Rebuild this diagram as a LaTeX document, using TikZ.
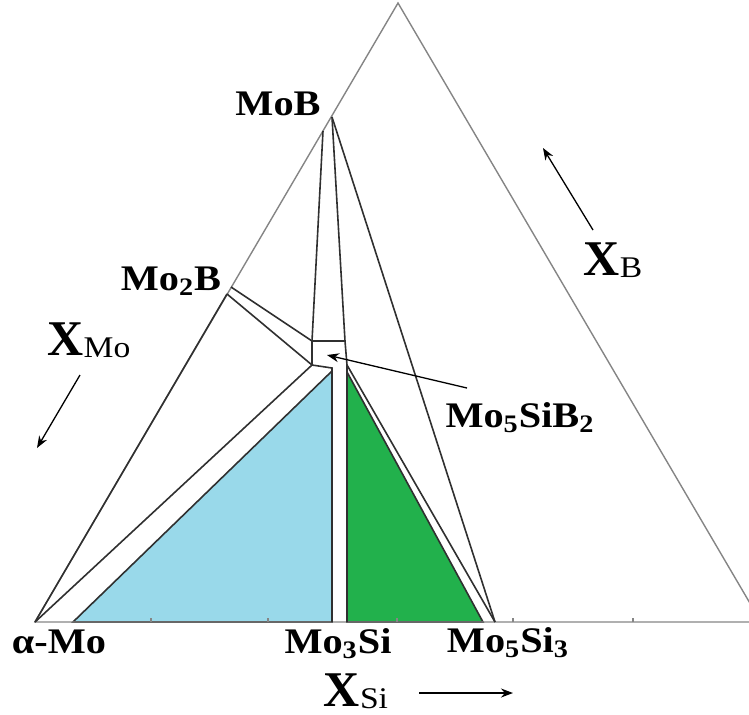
\documentclass[tikz,border=0pt]{standalone}
\usepackage{fontspec}
\setmainfont{Liberation Serif}[FakeStretch=1.12]
\newfontfamily\axisfont{Liberation Serif}
\usetikzlibrary{arrows.meta}
\definecolor{edgegray}{HTML}{858585}
\definecolor{tieline}{HTML}{303030}
\definecolor{bluefill}{HTML}{99D9EA}
\definecolor{greenfill}{HTML}{22B14C}
\tikzset{
  >={Stealth[length=6pt,width=4.5pt]},
  frame/.style={draw=edgegray,line width=.7pt},
  tie/.style={draw=tieline,line width=.8pt},
  phase/.style={font=\bfseries\fontsize{18}{18}\selectfont,inner sep=0pt,anchor=base},
  axislab/.style={inner sep=0pt,anchor=base},
  dirarrow/.style={->,line width=.65pt,color=black},
}
\newcommand{\axlab}[1]{{\axisfont\bfseries\fontsize{25}{25}\selectfont X}\raisebox{-1pt}{\fontsize{15}{15}\selectfont #1}}

\begin{document}
\begin{tikzpicture}[x=.5pt,y=-.5pt]
  \useasboundingbox (0,0) rectangle (749,714);
  \clip (0,0) rectangle (749,714);

  % corners of the composition triangle
  \coordinate (pMo) at (35,622);
  \coordinate (pB) at (398,3);
  \coordinate (pSi) at (761,622);
  % compounds
  \coordinate (pMoB) at (332,117);
  \coordinate (pMoBl) at (323,131);
  \coordinate (pMo2Bu) at (231,287);
  \coordinate (pMo2Bl) at (227,294);
  \coordinate (pMo5Si3) at (495,622);
  % T2 box and Mo3Si strip
  \coordinate (t2tl) at (312,341);
  \coordinate (t2tr) at (345,341);
  \coordinate (t2bl) at (312,365);
  \coordinate (t2br) at (347,365);
  \coordinate (m3tl) at (332,368);
  \coordinate (m3bl) at (332,622);
  \coordinate (m3br) at (347,622);

  % three-phase fields
  \filldraw[tie,fill=bluefill] (73,622) -- (332,371) -- (m3bl) -- cycle;
  \filldraw[tie,fill=greenfill] (347,372) -- (m3br) -- (483,622) -- cycle;

  \draw[frame] (pMo) -- (pB) -- (pSi) -- cycle;
  \foreach \tx in {151,268,397,513,633}
    \draw[frame] (\tx,622) -- ++(0,-4);

  % tie lines
  \draw[tie] (pMoBl) -- (t2tl) -- (t2bl);
  \draw[tie] (pMoB) -- (t2tr) -- (t2br) -- (m3br);
  \draw[tie] (t2tl) -- (t2tr);
  \draw[tie] (t2bl) -- (m3tl) -- (m3bl);
  \draw[tie] (pMo2Bu) -- (t2tl);
  \draw[tie] (pMo2Bl) -- (t2bl);
  \draw[tie] (pMo) -- (t2bl);
  \draw[tie] (pMo) -- (pMo2Bl);
  \draw[tie] (t2br) -- (pMo5Si3);
  \draw[tie] (pMoB) -- (pMo5Si3);

  % labels
  \node[phase] (lMoB) at (278,115) {MoB};
  \node[phase] (lMo2B) at (171,290) {Mo\textsubscript{2}B};
  \node[phase] (lT2) at (520,427) {Mo\textsubscript{5}SiB\textsubscript{2}};
  \node[phase] (lMo) at (59,653) {α-Mo};
  \node[phase] (lMo3Si) at (338,653) {Mo\textsubscript{3}Si};
  \node[phase] (lMo5Si3) at (508,652) {Mo\textsubscript{5}Si\textsubscript{3}};
  \node[axislab] (xMo) at (89,355) {\axlab{Mo}};
  \node[axislab] (xB) at (613,275) {\axlab{B}};
  \node[axislab] (xSi) at (356,706) {\axlab{Si}};

  % direction arrows
  \coordinate (aMo1) at (80,375);
  \coordinate (aMo2) at (37,448);
  \coordinate (aB1) at (593,230);
  \coordinate (aB2) at (543,148);
  \coordinate (aSi1) at (419,693);
  \coordinate (aSi2) at (513,693);
  \coordinate (aT21) at (467,388);
  \coordinate (aT22) at (327,355);
  \draw[dirarrow] (aMo1) -- (aMo2);
  \draw[dirarrow] (aB1) -- (aB2);
  \draw[dirarrow] (aSi1) -- (aSi2);
  \draw[dirarrow] (aT21) -- (aT22);
\end{tikzpicture}
\end{document}
